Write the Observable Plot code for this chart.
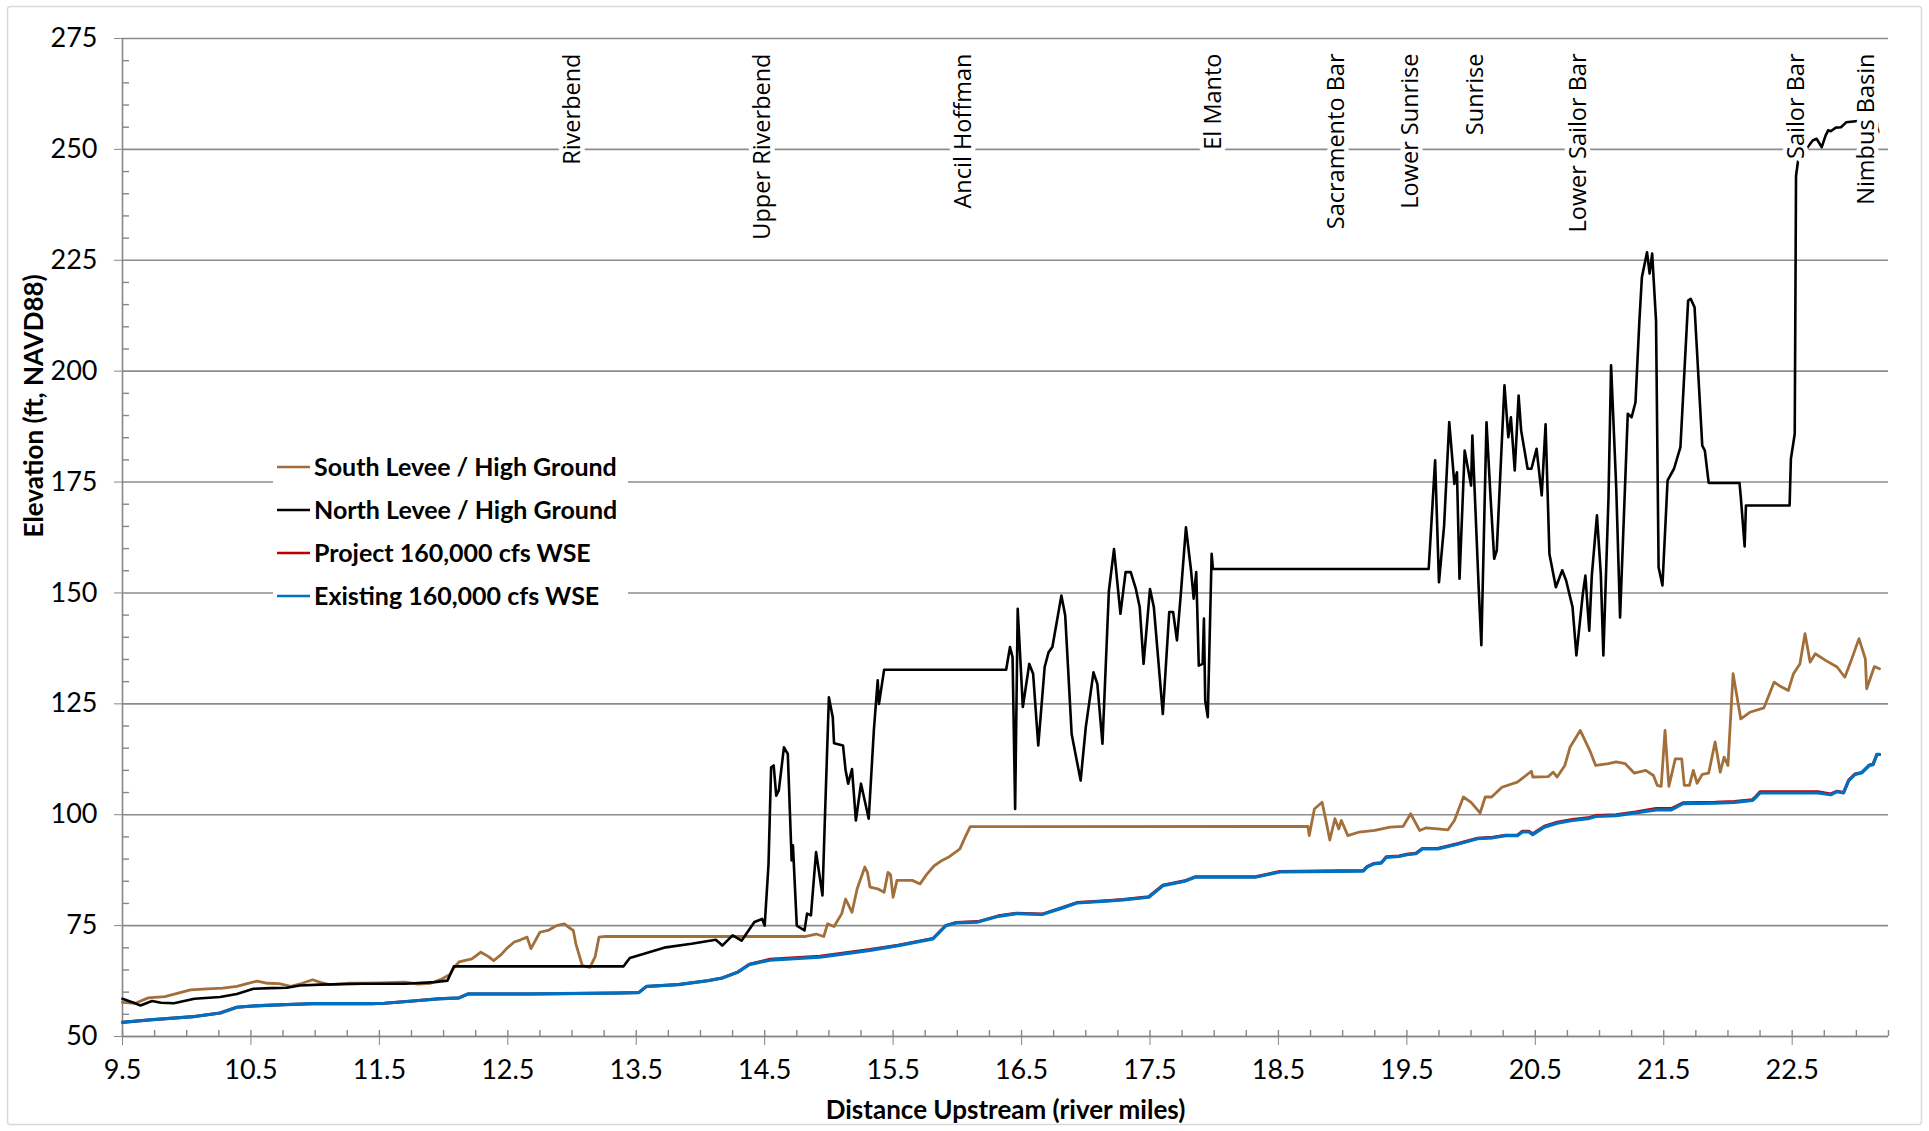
<!DOCTYPE html>
<html><head><meta charset="utf-8">
<script src="https://cdn.jsdelivr.net/npm/d3@7"></script>
<script src="https://cdn.jsdelivr.net/npm/@observablehq/plot@0.6"></script>
<style>html,body{margin:0;padding:0;background:#fff;overflow:hidden}</style>
</head><body><div id="chart"></div>
<script>
// ---------------- DATA ----------------
const seriesNames = ["South Levee / High Ground", "North Levee / High Ground", "Project 160,000 cfs WSE", "Existing 160,000 cfs WSE"];
const seriesColors = ["#a26f3b", "#000000", "#c00000", "#0070c0"];

const xTicks = [9.5, 10.5, 11.5, 12.5, 13.5, 14.5, 15.5, 16.5, 17.5, 18.5, 19.5, 20.5, 21.5, 22.5];
const yTicks = [50, 75, 100, 125, 150, 175, 200, 225, 250, 275];

const locationNames = ["Riverbend", "Upper Riverbend", "Ancil Hoffman", "El Manto", "Sacramento Bar", "Lower Sunrise", "Sunrise", "Lower Sailor Bar", "Sailor Bar", "Nimbus Basin"];
const locationMiles = [12.98, 14.46, 16.02, 17.97, 18.93, 19.50, 20.01, 20.81, 22.51, 23.05];

const southMiles = [9.50,9.60,9.70,9.83,10.03,10.16,10.28,10.39,10.47,10.55,10.63,10.72,10.81,10.90,10.98,11.04,11.11,11.25,11.37,11.50,11.70,11.80,11.90,11.99,12.05,12.08,12.12,12.22,12.29,12.35,12.39,12.45,12.49,12.55,12.60,12.65,12.68,12.75,12.82,12.88,12.94,12.98,13.01,13.03,13.08,13.14,13.18,13.21,13.26,14.82,14.90,14.96,14.99,15.04,15.10,15.13,15.18,15.22,15.28,15.30,15.32,15.38,15.43,15.46,15.48,15.50,15.53,15.65,15.71,15.76,15.82,15.87,15.93,16.02,16.06,16.10,18.73,18.74,18.78,18.84,18.87,18.90,18.94,18.97,18.99,19.04,19.13,19.25,19.37,19.47,19.53,19.60,19.65,19.74,19.82,19.87,19.94,20.00,20.07,20.11,20.16,20.24,20.36,20.47,20.48,20.60,20.64,20.67,20.73,20.77,20.85,20.93,20.97,21.07,21.13,21.20,21.27,21.36,21.42,21.45,21.48,21.51,21.54,21.59,21.64,21.66,21.70,21.73,21.76,21.80,21.85,21.90,21.94,21.97,22.00,22.04,22.10,22.17,22.28,22.36,22.40,22.47,22.51,22.56,22.60,22.64,22.68,22.76,22.85,22.91,22.96,23.02,23.07,23.08,23.14,23.18];
const southElev = [57.7,57.5,58.7,59.0,60.5,60.75,60.9,61.3,61.9,62.5,62.0,61.9,61.3,62.0,62.8,62.2,61.7,62.0,62.0,62.1,62.25,61.8,62.0,63.0,64.0,65.5,66.8,67.5,69.0,68.0,67.1,68.5,69.8,71.3,71.8,72.4,69.8,73.5,74.0,75.0,75.4,74.5,73.9,70.9,66.0,65.6,68.0,72.4,72.55,72.55,73.1,72.55,75.4,74.8,77.7,81.0,78.0,83.3,88.2,87.0,83.7,83.3,82.5,87.0,86.5,81.4,85.2,85.2,84.4,86.5,88.5,89.5,90.4,92.3,94.9,97.3,97.35,95.3,101.3,102.8,98.7,94.3,99.1,96.8,98.7,95.3,96.1,96.45,97.2,97.35,100.2,96.45,97.05,96.8,96.6,98.7,104.0,102.8,100.4,104.0,104.0,106.2,107.35,109.8,108.5,108.6,109.6,108.5,111.1,115.2,119.0,114.1,111.1,111.5,111.9,111.5,109.4,110.0,108.85,106.6,106.4,119.0,106.4,112.6,112.6,106.6,106.6,110.0,107.1,109.1,109.4,116.4,109.6,113.0,111.1,131.8,121.6,123.1,124.1,129.9,129.1,128.0,131.8,134.0,140.8,134.4,136.3,134.8,133.3,131.0,134.8,139.7,135.1,128.4,133.4,132.9];

const northMiles = [9.50,9.57,9.64,9.73,9.80,9.90,10.06,10.26,10.39,10.52,10.65,10.78,10.88,11.04,11.37,11.70,11.93,12.03,12.08,13.40,13.45,13.60,13.73,13.93,14.12,14.17,14.25,14.32,14.42,14.48,14.50,14.53,14.55,14.57,14.59,14.61,14.65,14.68,14.71,14.72,14.75,14.81,14.83,14.86,14.90,14.95,14.97,15.00,15.03,15.04,15.11,15.13,15.15,15.18,15.21,15.25,15.31,15.35,15.38,15.39,15.43,16.38,16.41,16.43,16.45,16.47,16.51,16.56,16.59,16.63,16.68,16.71,16.74,16.81,16.84,16.89,16.96,17.00,17.06,17.09,17.13,17.18,17.22,17.27,17.31,17.35,17.39,17.42,17.45,17.50,17.53,17.60,17.65,17.68,17.71,17.74,17.78,17.82,17.84,17.86,17.88,17.91,17.92,17.93,17.95,17.98,17.99,19.67,19.72,19.75,19.79,19.83,19.87,19.89,19.91,19.95,20.00,20.01,20.06,20.08,20.12,20.15,20.18,20.20,20.26,20.29,20.31,20.34,20.37,20.39,20.44,20.47,20.51,20.55,20.58,20.61,20.66,20.71,20.74,20.79,20.82,20.87,20.89,20.92,20.94,20.98,21.01,21.03,21.07,21.09,21.13,21.16,21.22,21.25,21.28,21.31,21.33,21.37,21.39,21.41,21.44,21.46,21.49,21.53,21.58,21.63,21.69,21.71,21.74,21.80,21.82,21.85,22.09,22.10,22.13,22.14,22.48,22.49,22.52,22.53,22.56,22.60,22.62,22.66,22.69,22.73,22.76,22.78,22.80,22.84,22.88,22.92,23.05,23.16,23.17];
const northElev = [58.5,57.8,57.0,58.0,57.6,57.5,58.5,58.9,59.6,60.75,60.9,61.0,61.5,61.7,61.9,61.9,62.25,62.6,65.8,65.8,67.7,69.0,70.1,70.9,71.8,70.5,72.8,71.6,75.8,76.5,75.0,88.9,110.7,111.1,104.3,105.5,115.2,113.7,89.7,93.1,75.0,73.9,77.7,77.3,91.6,81.8,100.2,126.5,122.0,116.1,115.6,110.0,107.0,110.3,98.7,107.0,99.1,119.0,130.3,125.0,132.7,132.7,137.8,135.5,101.3,146.4,124.3,134.0,131.8,115.6,133.3,136.6,137.8,149.4,144.9,118.2,107.7,119.7,132.1,129.5,116.0,150.5,159.9,145.3,154.7,154.7,150.9,146.8,134.0,150.9,146.8,122.7,145.7,145.7,139.3,149.8,164.8,155.0,148.7,154.7,133.6,134.0,144.2,125.7,122.0,158.8,155.4,155.4,179.9,152.4,165.2,188.5,174.6,177.2,153.2,182.1,174.2,185.5,150.6,138.2,188.5,172.4,157.7,159.6,196.8,185.1,189.6,177.6,194.5,186.6,178.0,178.0,182.5,172.0,188.0,158.8,151.3,155.1,152.8,146.8,135.9,149.8,153.9,141.5,153.9,167.5,154.3,135.9,171.6,201.3,173.9,144.5,190.4,189.6,193.0,211.1,221.2,226.8,222.0,226.5,211.4,155.8,151.7,175.4,178.0,182.9,215.9,216.3,214.4,183.2,182.1,174.8,174.8,171.6,160.5,169.7,169.7,180.2,185.9,244.0,250.5,249.4,250.5,252.0,252.4,250.5,253.1,254.3,254.1,254.9,255.0,256.1,256.5,256.0,253.9];

const existingMiles = [9.50,9.73,10.06,10.26,10.39,10.52,10.78,10.98,11.44,11.54,11.76,11.96,12.12,12.19,12.68,13.34,13.52,13.58,13.83,14.06,14.17,14.29,14.38,14.54,14.93,15.32,15.54,15.77,15.81,15.91,15.99,16.16,16.32,16.46,16.66,16.82,16.93,17.16,17.29,17.49,17.60,17.77,17.85,18.32,18.51,19.16,19.19,19.24,19.30,19.34,19.44,19.50,19.57,19.62,19.74,19.90,20.05,20.17,20.27,20.36,20.40,20.45,20.48,20.57,20.67,20.79,20.91,20.97,21.13,21.28,21.44,21.56,21.65,21.90,22.05,22.19,22.22,22.25,22.70,22.80,22.85,22.90,22.94,22.99,23.04,23.10,23.13,23.16,23.18];
const existingElev = [53.2,53.8,54.5,55.3,56.6,56.9,57.2,57.4,57.4,57.5,58.0,58.5,58.7,59.6,59.6,59.8,59.9,61.3,61.7,62.6,63.2,64.5,66.2,67.2,67.9,69.4,70.5,71.8,72.0,75.0,75.6,75.8,77.1,77.7,77.5,79.0,80.1,80.5,80.8,81.4,84.0,85.0,85.9,85.9,87.1,87.3,88.2,88.9,89.1,90.4,90.6,91.0,91.2,92.3,92.3,93.4,94.6,94.8,95.3,95.3,96.1,96.1,95.5,97.2,98.1,98.7,99.1,99.6,99.8,100.4,101.1,101.1,102.5,102.6,102.8,103.2,104.0,104.9,104.9,104.5,105.2,104.9,107.7,109.1,109.4,111.1,111.3,113.6,113.6];

const projectMiles = [9.50,9.73,10.06,10.26,10.39,10.52,10.78,10.98,11.44,11.54,11.76,11.96,12.12,12.19,12.68,13.34,13.52,13.58,13.83,14.06,14.17,14.29,14.38,14.54,14.93,15.32,15.54,15.77,15.81,15.91,15.99,16.16,16.32,16.46,16.66,16.82,16.93,17.16,17.29,17.49,17.60,17.77,17.85,18.32,18.51,19.16,19.19,19.24,19.30,19.34,19.44,19.50,19.57,19.62,19.74,19.90,20.05,20.17,20.27,20.36,20.40,20.45,20.48,20.57,20.67,20.79,20.91,20.97,21.13,21.28,21.44,21.56,21.65,21.90,22.05,22.19,22.22,22.25,22.70,22.80,22.85,22.90,22.94,22.99,23.04,23.10,23.13,23.16,23.18];
const projectElev = [53.2,53.8,54.5,55.3,56.6,56.9,57.2,57.4,57.4,57.5,58.0,58.5,58.7,59.6,59.6,59.8,59.9,61.3,61.7,62.6,63.2,64.5,66.3,67.4,68.1,69.6,70.6,71.9,72.1,75.0,75.7,75.9,77.2,77.8,77.6,79.1,80.2,80.6,80.9,81.5,84.1,85.1,86.0,86.0,87.2,87.4,88.3,89.0,89.2,90.5,90.7,91.1,91.3,92.4,92.4,93.5,94.7,94.9,95.4,95.4,96.3,96.3,95.7,97.4,98.3,98.9,99.3,99.8,100.0,100.6,101.4,101.4,102.7,102.8,103.0,103.4,104.2,105.2,105.2,104.7,105.3,105.0,107.8,109.2,109.5,111.2,111.4,113.6,113.6];

// ---------------- LAYOUT ----------------
const W = 1929, H = 1131;
const mL = 122, mR = 41, mT = 38, mB = 95;
const plotW = W - mL - mR, plotH = H - mT - mB;
const axisColor = "#878787";
const tickFont = "'Liberation Sans Narrow', 'Arial Narrow', Lato, sans-serif";
const xMinor = d3.range(9.75, 23.26, 0.25).filter(v => !xTicks.some(t => Math.abs(t - v) < 1e-6));
const yMinor = d3.range(55, 275, 5).filter(v => v % 25 !== 0);

const rows = (m, e) => m.map((x, i) => ({mile: x, elev: e[i]}));
const south = rows(southMiles, southElev);
const north = rows(northMiles, northElev);
const existing = rows(existingMiles, existingElev);
const project = rows(projectMiles, projectElev);
const locations = locationNames.map((n, i) => ({name: n, mile: locationMiles[i]}));

const chart = Plot.plot({
  width: W, height: H,
  marginLeft: mL, marginRight: mR, marginTop: mT, marginBottom: mB,
  style: {fontFamily: "Lato, sans-serif", background: "white", color: "black"},
  x: {domain: [9.5, 23.25], label: null},
  y: {domain: [50, 275], label: null},
  marks: [
    Plot.gridY(yTicks, {stroke: "#8c8c8c", strokeOpacity: 1, strokeWidth: 1.6}),
    Plot.ruleX([9.5], {stroke: axisColor, strokeWidth: 1.6}),
    Plot.ruleY([50], {stroke: axisColor, strokeWidth: 1.6}),
    Plot.tickY(yMinor, {y: d => d, stroke: axisColor, strokeWidth: 1.4, insetRight: plotW - 7}),
    Plot.tickX(xMinor, {x: d => d, stroke: axisColor, strokeWidth: 1.4, insetTop: plotH - 6}),
    Plot.tickX(xTicks, {x: d => d, stroke: axisColor, strokeWidth: 1.4, insetTop: plotH - 6}),
    Plot.axisY({ticks: yTicks, tickSize: 8, tickPadding: 17, fontSize: 27, fontFamily: tickFont, stroke: axisColor, fill: "black", tickFormat: d => d}),
    Plot.axisX({ticks: xTicks, tickSize: 9, tickPadding: 14, fontSize: 27, fontFamily: tickFont, stroke: axisColor, fill: "black", tickFormat: d => d.toFixed(1)}),
    Plot.line(project, {x: "mile", y: "elev", stroke: seriesColors[2], strokeWidth: 3}),
    Plot.line(existing, {x: "mile", y: "elev", stroke: seriesColors[3], strokeWidth: 3.2}),
    Plot.line(south, {x: "mile", y: "elev", stroke: seriesColors[0], strokeWidth: 2.8}),
    Plot.line(north, {x: "mile", y: "elev", stroke: seriesColors[1], strokeWidth: 2.6}),
    Plot.text(locations, {x: "mile", text: "name", frameAnchor: "top", dx: -6, dy: 15, rotate: -90, textAnchor: "end",
      fontSize: 23.5, fontFamily: "Open Sans, sans-serif", fill: "black", stroke: "white", strokeWidth: 9}),
    Plot.text(["Elevation (ft, NAVD88)"], {frameAnchor: "left", dx: -88, rotate: -90, fontSize: 26, fontWeight: "bold", fill: "black"}),
    Plot.text(["Distance Upstream (river miles)"], {frameAnchor: "bottom", dy: 82, fontSize: 26, fontWeight: "bold", fill: "black"})
  ]
});
document.getElementById("chart").appendChild(chart);

// chart-area border and in-plot legend
const svg = d3.select(chart);
svg.append("rect").attr("x", 7.5).attr("y", 6.5).attr("width", W - 15).attr("height", H - 13)
  .attr("rx", 3).attr("fill", "none").attr("stroke", "#d9d9d9").attr("stroke-width", 1.5);
const lg = svg.append("g").attr("transform", "translate(273,445)");
lg.append("rect").attr("width", 355).attr("height", 173).attr("fill", "white");
seriesNames.forEach((name, i) => {
  const y = 22 + i * 43;
  lg.append("line").attr("x1", 4).attr("x2", 37).attr("y1", y).attr("y2", y)
    .attr("stroke", seriesColors[i]).attr("stroke-width", 2.4);
  lg.append("text").attr("x", 41).attr("y", y).attr("dy", "0.35em")
    .attr("text-anchor", "start")
    .attr("font-family", "Lato, sans-serif").attr("font-weight", "bold").attr("font-size", 25)
    .attr("fill", "black").text(name);
});
</script>
</body></html>
